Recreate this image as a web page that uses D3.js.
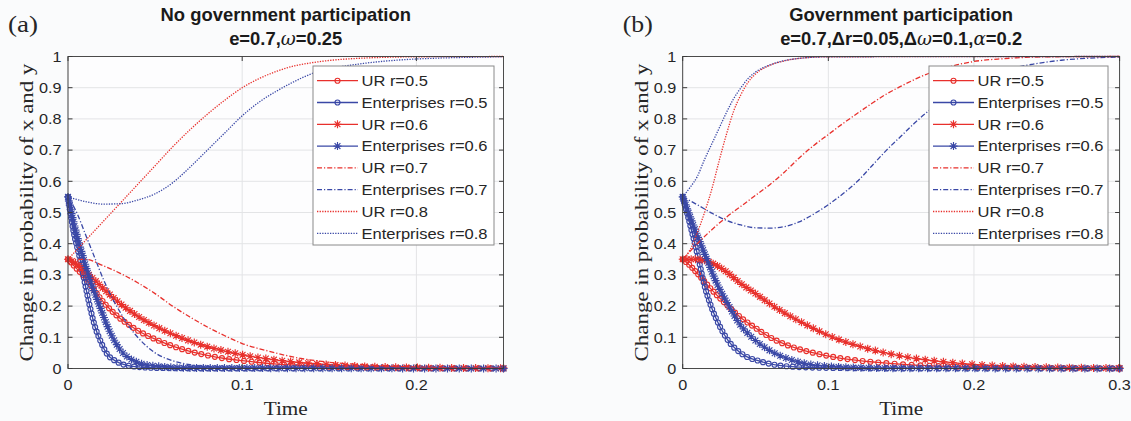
<!DOCTYPE html>
<html><head><meta charset="utf-8">
<script src="https://cdn.jsdelivr.net/npm/d3@7"></script>
<style>body{margin:0;background:#fafbfc}svg{display:block}</style>
</head><body><svg id="c" width="1131" height="421"></svg>
<script>
// ---------- data ----------
const seriesNames = ["UR r=0.5","Enterprises r=0.5","UR r=0.6","Enterprises r=0.6","UR r=0.7","Enterprises r=0.7","UR r=0.8","Enterprises r=0.8"];
const yTicks = [0,0.1,0.2,0.3,0.4,0.5,0.6,0.7,0.8,0.9,1];
const yTickLabels = ["0","0.1","0.2","0.3","0.4","0.5","0.6","0.7","0.8","0.9","1"];
const xTicksA = [0,0.1,0.2];
const xTickLabelsA = ["0","0.1","0.2"];
const xTicksB = [0,0.1,0.2,0.3];
const xTickLabelsB = ["0","0.1","0.2","0.3"];

// Panel (a): no government participation, time 0..0.25
const a_UR05 = [[0,0.35],[0.005,0.32],[0.01,0.29],[0.015,0.252],[0.02,0.215],[0.025,0.185],[0.03,0.16],[0.035,0.14],[0.04,0.122],[0.05,0.094],[0.06,0.072],[0.07,0.055],[0.08,0.042],[0.09,0.032],[0.1,0.025],[0.12,0.014],[0.14,0.008],[0.17,0.003],[0.2,0.001],[0.25,0.0003]];
const a_EN05 = [[0,0.55],[0.003,0.444],[0.007,0.348],[0.01,0.265],[0.0125,0.2],[0.0155,0.134],[0.0185,0.09],[0.022,0.05],[0.028,0.022],[0.037,0.007],[0.05,0.002],[0.08,0.0003],[0.25,0]];
const a_UR06 = [[0,0.35],[0.005,0.335],[0.01,0.31],[0.015,0.285],[0.02,0.258],[0.025,0.232],[0.03,0.208],[0.035,0.187],[0.04,0.168],[0.045,0.151],[0.05,0.136],[0.06,0.11],[0.07,0.088],[0.08,0.07],[0.09,0.056],[0.1,0.044],[0.12,0.027],[0.14,0.016],[0.16,0.009],[0.18,0.005],[0.2,0.003],[0.25,0.001]];
const a_EN06 = [[0,0.55],[0.004,0.45],[0.009,0.35],[0.0136,0.268],[0.0183,0.198],[0.024,0.118],[0.03,0.06],[0.039,0.022],[0.05,0.008],[0.07,0.002],[0.25,0]];
const a_UR07 = [[0,0.35],[0.01,0.35],[0.02,0.33],[0.03,0.305],[0.04,0.275],[0.05,0.24],[0.06,0.2],[0.07,0.165],[0.08,0.133],[0.09,0.105],[0.1,0.08],[0.115,0.056],[0.13,0.036],[0.15,0.02],[0.17,0.012],[0.2,0.005],[0.25,0.001]];
const a_EN07 = [[0,0.55],[0.005,0.5],[0.01,0.43],[0.015,0.36],[0.02,0.29],[0.025,0.23],[0.03,0.18],[0.035,0.135],[0.04,0.1],[0.045,0.072],[0.05,0.05],[0.06,0.025],[0.07,0.012],[0.08,0.006],[0.1,0.002],[0.25,0]];
const a_UR08 = [[0,0.35],[0.01,0.41],[0.02,0.47],[0.03,0.53],[0.04,0.59],[0.05,0.65],[0.06,0.71],[0.07,0.765],[0.08,0.815],[0.09,0.86],[0.1,0.9],[0.11,0.93],[0.12,0.953],[0.13,0.97],[0.14,0.98],[0.16,0.992],[0.2,0.999],[0.25,1]];
const a_EN08 = [[0,0.55],[0.01,0.535],[0.02,0.527],[0.03,0.528],[0.04,0.54],[0.05,0.56],[0.06,0.595],[0.07,0.645],[0.08,0.7],[0.09,0.755],[0.1,0.81],[0.11,0.855],[0.12,0.89],[0.13,0.92],[0.14,0.945],[0.15,0.96],[0.17,0.978],[0.2,0.992],[0.25,0.999]];

// Panel (b): government participation, time 0..0.3
const b_UR05 = [[0,0.35],[0.005,0.33],[0.01,0.305],[0.02,0.252],[0.03,0.205],[0.04,0.163],[0.05,0.13],[0.06,0.1],[0.07,0.078],[0.08,0.062],[0.09,0.05],[0.1,0.04],[0.12,0.026],[0.14,0.017],[0.16,0.011],[0.18,0.007],[0.2,0.004],[0.25,0.0015],[0.3,0.0005]];
const b_EN05 = [[0,0.55],[0.006,0.444],[0.011,0.348],[0.015,0.265],[0.02,0.193],[0.0256,0.134],[0.031,0.091],[0.04,0.049],[0.054,0.022],[0.075,0.006],[0.1,0.002],[0.15,0.0003],[0.3,0]];
const b_UR06 = [[0,0.35],[0.01,0.35],[0.02,0.338],[0.03,0.31],[0.04,0.272],[0.05,0.24],[0.06,0.207],[0.07,0.178],[0.08,0.152],[0.09,0.128],[0.1,0.106],[0.11,0.088],[0.12,0.073],[0.13,0.06],[0.14,0.049],[0.15,0.04],[0.16,0.032],[0.17,0.026],[0.18,0.021],[0.2,0.013],[0.22,0.008],[0.25,0.004],[0.3,0.001]];
const b_EN06 = [[0,0.55],[0.0085,0.444],[0.0165,0.351],[0.0234,0.273],[0.031,0.207],[0.038,0.15],[0.047,0.102],[0.059,0.06],[0.075,0.027],[0.091,0.011],[0.12,0.003],[0.15,0.001],[0.3,0]];
const b_UR07 = [[0,0.35],[0.01,0.4],[0.02,0.445],[0.03,0.485],[0.04,0.52],[0.05,0.555],[0.06,0.59],[0.07,0.63],[0.08,0.675],[0.09,0.715],[0.1,0.75],[0.11,0.785],[0.12,0.818],[0.13,0.85],[0.14,0.88],[0.15,0.905],[0.16,0.928],[0.17,0.948],[0.18,0.963],[0.19,0.975],[0.2,0.984],[0.22,0.993],[0.25,0.999],[0.3,1]];
const b_EN07 = [[0,0.55],[0.01,0.525],[0.02,0.498],[0.03,0.475],[0.04,0.46],[0.05,0.451],[0.06,0.45],[0.07,0.455],[0.08,0.47],[0.09,0.495],[0.1,0.525],[0.11,0.56],[0.12,0.6],[0.13,0.65],[0.14,0.7],[0.15,0.745],[0.16,0.79],[0.17,0.83],[0.18,0.865],[0.19,0.895],[0.2,0.92],[0.22,0.955],[0.24,0.975],[0.26,0.988],[0.28,0.995],[0.3,0.998]];
const b_UR08 = [[0,0.35],[0.005,0.38],[0.01,0.435],[0.015,0.5],[0.02,0.575],[0.025,0.665],[0.03,0.75],[0.035,0.825],[0.04,0.878],[0.045,0.918],[0.05,0.944],[0.06,0.972],[0.07,0.986],[0.08,0.994],[0.1,0.999],[0.3,1]];
const b_EN08 = [[0,0.55],[0.005,0.58],[0.01,0.615],[0.015,0.67],[0.02,0.72],[0.025,0.77],[0.03,0.82],[0.035,0.865],[0.04,0.9],[0.045,0.93],[0.05,0.95],[0.06,0.973],[0.07,0.987],[0.08,0.994],[0.1,0.999],[0.3,1]];

// ---------- styles ----------
const RED = "#e8302c", BLUE = "#3a48a6";
const seriesColor = [RED,BLUE,RED,BLUE,RED,BLUE,RED,BLUE];
const seriesMarker = ["o","o","*","*",null,null,null,null];
const seriesDash = [null,null,null,null,"5,2,1.2,2","5,2,1.2,2","1.3,1.3","1.3,1.3"];
const SANS = "'Liberation Sans', Arial, Helvetica, sans-serif";
const SERIF = "'Liberation Serif', 'Times New Roman', serif";
const TXT = "#262626";

const svg = d3.select("#c");
svg.append("rect").attr("width",1131).attr("height",421).attr("fill","#fafbfc");

function T(g, x, y, str, o={}) {
  const t = g.append("text")
    .attr("transform", `translate(${x},${y}) scale(${o.sx||1},1)` + (o.rot?` rotate(${o.rot})`:""))
    .attr("font-family", o.family||SANS)
    .attr("font-size", o.size||15)
    .attr("font-weight", o.weight||"normal")
    .attr("text-anchor", o.anchor||"start")
    .attr("fill", o.fill||TXT)
    .text(str);
  if (o.len) t.attr("textLength", o.len).attr("lengthAdjust","spacingAndGlyphs");
  return t;
}

function drawMarker(g, x, y, type, color) {
  if (type === "o") {
    g.append("circle").attr("cx",x).attr("cy",y).attr("r",2.5)
      .attr("fill","none").attr("stroke",color).attr("stroke-width",1.15);
  } else if (type === "*") {
    const s=4,k=2.9;
    g.append("path").attr("transform",`translate(${x},${y})`)
      .attr("d",`M${-s},0H${s}M0,${-s}V${s}M${-k},${-k}L${k},${k}M${-k},${k}L${k},${-k}`)
      .attr("stroke",color).attr("stroke-width",1.15).attr("fill","none");
  }
}

function panel(cfg) {
  const g = svg.append("g");
  const x = d3.scaleLinear().domain(cfg.xDomain).range([cfg.x0, cfg.x1]);
  const y = d3.scaleLinear().domain([0,1]).range([368.5, 56.5]);

  g.append("rect").attr("x",cfg.x0).attr("y",56.5).attr("width",cfg.x1-cfg.x0).attr("height",312)
    .attr("fill","#fdfdfe");

  // grid
  g.selectAll(".gx").data(cfg.xTicks).join("line")
    .attr("x1",d=>x(d)).attr("x2",d=>x(d)).attr("y1",y(0)).attr("y2",y(1))
    .attr("stroke","#e3e4e6").attr("stroke-width",1);
  g.selectAll(".gy").data(yTicks).join("line")
    .attr("x1",cfg.x0).attr("x2",cfg.x1).attr("y1",d=>y(d)).attr("y2",d=>y(d))
    .attr("stroke","#e3e4e6").attr("stroke-width",1);

  // series
  const line = d3.line().x(d=>x(d[0])).y(d=>y(d[1])).curve(d3.curveMonotoneX);
  cfg.series.forEach((data,i) => {
    const p = g.append("path").datum(data).attr("d",line)
      .attr("fill","none").attr("stroke",seriesColor[i])
      .attr("stroke-width", 1.3);
    if (seriesDash[i]) p.attr("stroke-dasharray",seriesDash[i]);
    if (seriesMarker[i]) {
      const node = p.node();
      const L = node.getTotalLength();
      let s = 0;
      const mg = g.append("g");
      while (s < L) {
        const pt = node.getPointAtLength(s);
        drawMarker(mg, pt.x, pt.y, seriesMarker[i], seriesColor[i]);
        s += 4.2 + 0.02*(pt.x - cfg.x0);
      }
      const pe = node.getPointAtLength(L);
      drawMarker(mg, pe.x, pe.y, seriesMarker[i], seriesColor[i]);
    }
  });

  // box + inward ticks
  g.append("rect").attr("x",cfg.x0).attr("y",56.5).attr("width",cfg.x1-cfg.x0).attr("height",312)
    .attr("fill","none").attr("stroke","#3a3a3a").attr("stroke-width",0.9);
  cfg.xTicks.forEach(v=>{
    g.append("line").attr("x1",x(v)).attr("x2",x(v)).attr("y1",y(0)).attr("y2",y(0)-4.5).attr("stroke","#3a3a3a");
    g.append("line").attr("x1",x(v)).attr("x2",x(v)).attr("y1",y(1)).attr("y2",y(1)+4.5).attr("stroke","#3a3a3a");
  });
  yTicks.forEach(v=>{
    g.append("line").attr("x1",cfg.x0).attr("x2",cfg.x0+4.5).attr("y1",y(v)).attr("y2",y(v)).attr("stroke","#3a3a3a");
    g.append("line").attr("x1",cfg.x1).attr("x2",cfg.x1-4.5).attr("y1",y(v)).attr("y2",y(v)).attr("stroke","#3a3a3a");
  });

  // tick labels
  cfg.xTicks.forEach((v,i)=> T(g, x(v), 390, cfg.xTickLabels[i], {anchor:"middle", size:15, sx:1.08}));
  yTicks.forEach((v,i)=> T(g, cfg.x0-6.5, y(v)+5.3, yTickLabels[i], {anchor:"end", size:15, sx:1.08}));

  // axis labels
  T(g, (cfg.x0+cfg.x1)/2, 415, "Time", {anchor:"middle", family:SERIF, size:19, len:44});
  T(g, cfg.x0-35, 212.5, "Change in probability of x and y", {anchor:"middle", family:SERIF, size:19, rot:-90, len:298});

  // panel label
  T(g, cfg.x0-60, 32, cfg.tag, {family:SERIF, size:24, len:30});

  // titles
  const cx = (cfg.x0+cfg.x1)/2;
  T(g, cx, 21, cfg.title, {anchor:"middle", size:18.4, weight:"bold", fill:"#1a1a1a"});
  const t2 = g.append("text").attr("x",cx).attr("y",45).attr("text-anchor","middle")
    .attr("font-family",SANS).attr("font-size",18.4).attr("font-weight","bold").attr("fill","#1a1a1a");
  cfg.subtitle.forEach(part=>{
    const ts = t2.append("tspan").text(part[0]);
    if (part[1]) ts.attr("font-style","italic").attr("font-family","'DejaVu Serif', serif").attr("font-weight","normal");
  });

  // legend
  const lx = cfg.legX, ly = 66;
  g.append("rect").attr("x",lx).attr("y",ly).attr("width",cfg.legW).attr("height",179)
    .attr("fill","#ffffff").attr("stroke","#8a8a8a").attr("stroke-width",1);
  seriesNames.forEach((name,i)=>{
    const yy = 80.7 + i*21.8;
    const l = g.append("line").attr("x1",lx+4).attr("x2",lx+45).attr("y1",yy).attr("y2",yy)
      .attr("stroke",seriesColor[i]).attr("stroke-width",1.3);
    if (seriesDash[i]) l.attr("stroke-dasharray",seriesDash[i]);
    if (seriesMarker[i]) drawMarker(g, lx+24.5, yy, seriesMarker[i], seriesColor[i]);
    T(g, lx+48.5, yy+5.3, name, {size:15, sx:1.1});
  });
}

panel({
  x0:68, x1:503.5, xDomain:[0,0.25], xTicks:xTicksA, xTickLabels:xTickLabelsA,
  series:[a_UR05,a_EN05,a_UR06,a_EN06,a_UR07,a_EN07,a_UR08,a_EN08],
  tag:"(a)", title:"No government participation",
  subtitle:[["e=0.7,",false],["ω",true],["=0.25",false]],
  legX:313, legW:181
});
panel({
  x0:682.7, x1:1119.6, xDomain:[0,0.3], xTicks:xTicksB, xTickLabels:xTickLabelsB,
  series:[b_UR05,b_EN05,b_UR06,b_EN06,b_UR07,b_EN07,b_UR08,b_EN08],
  tag:"(b)", title:"Government participation",
  subtitle:[["e=0.7,Δr=0.05,Δ",false],["ω",true],["=0.1,",false],["α",true],["=0.2",false]],
  legX:929, legW:179
});
</script>
</body></html>
